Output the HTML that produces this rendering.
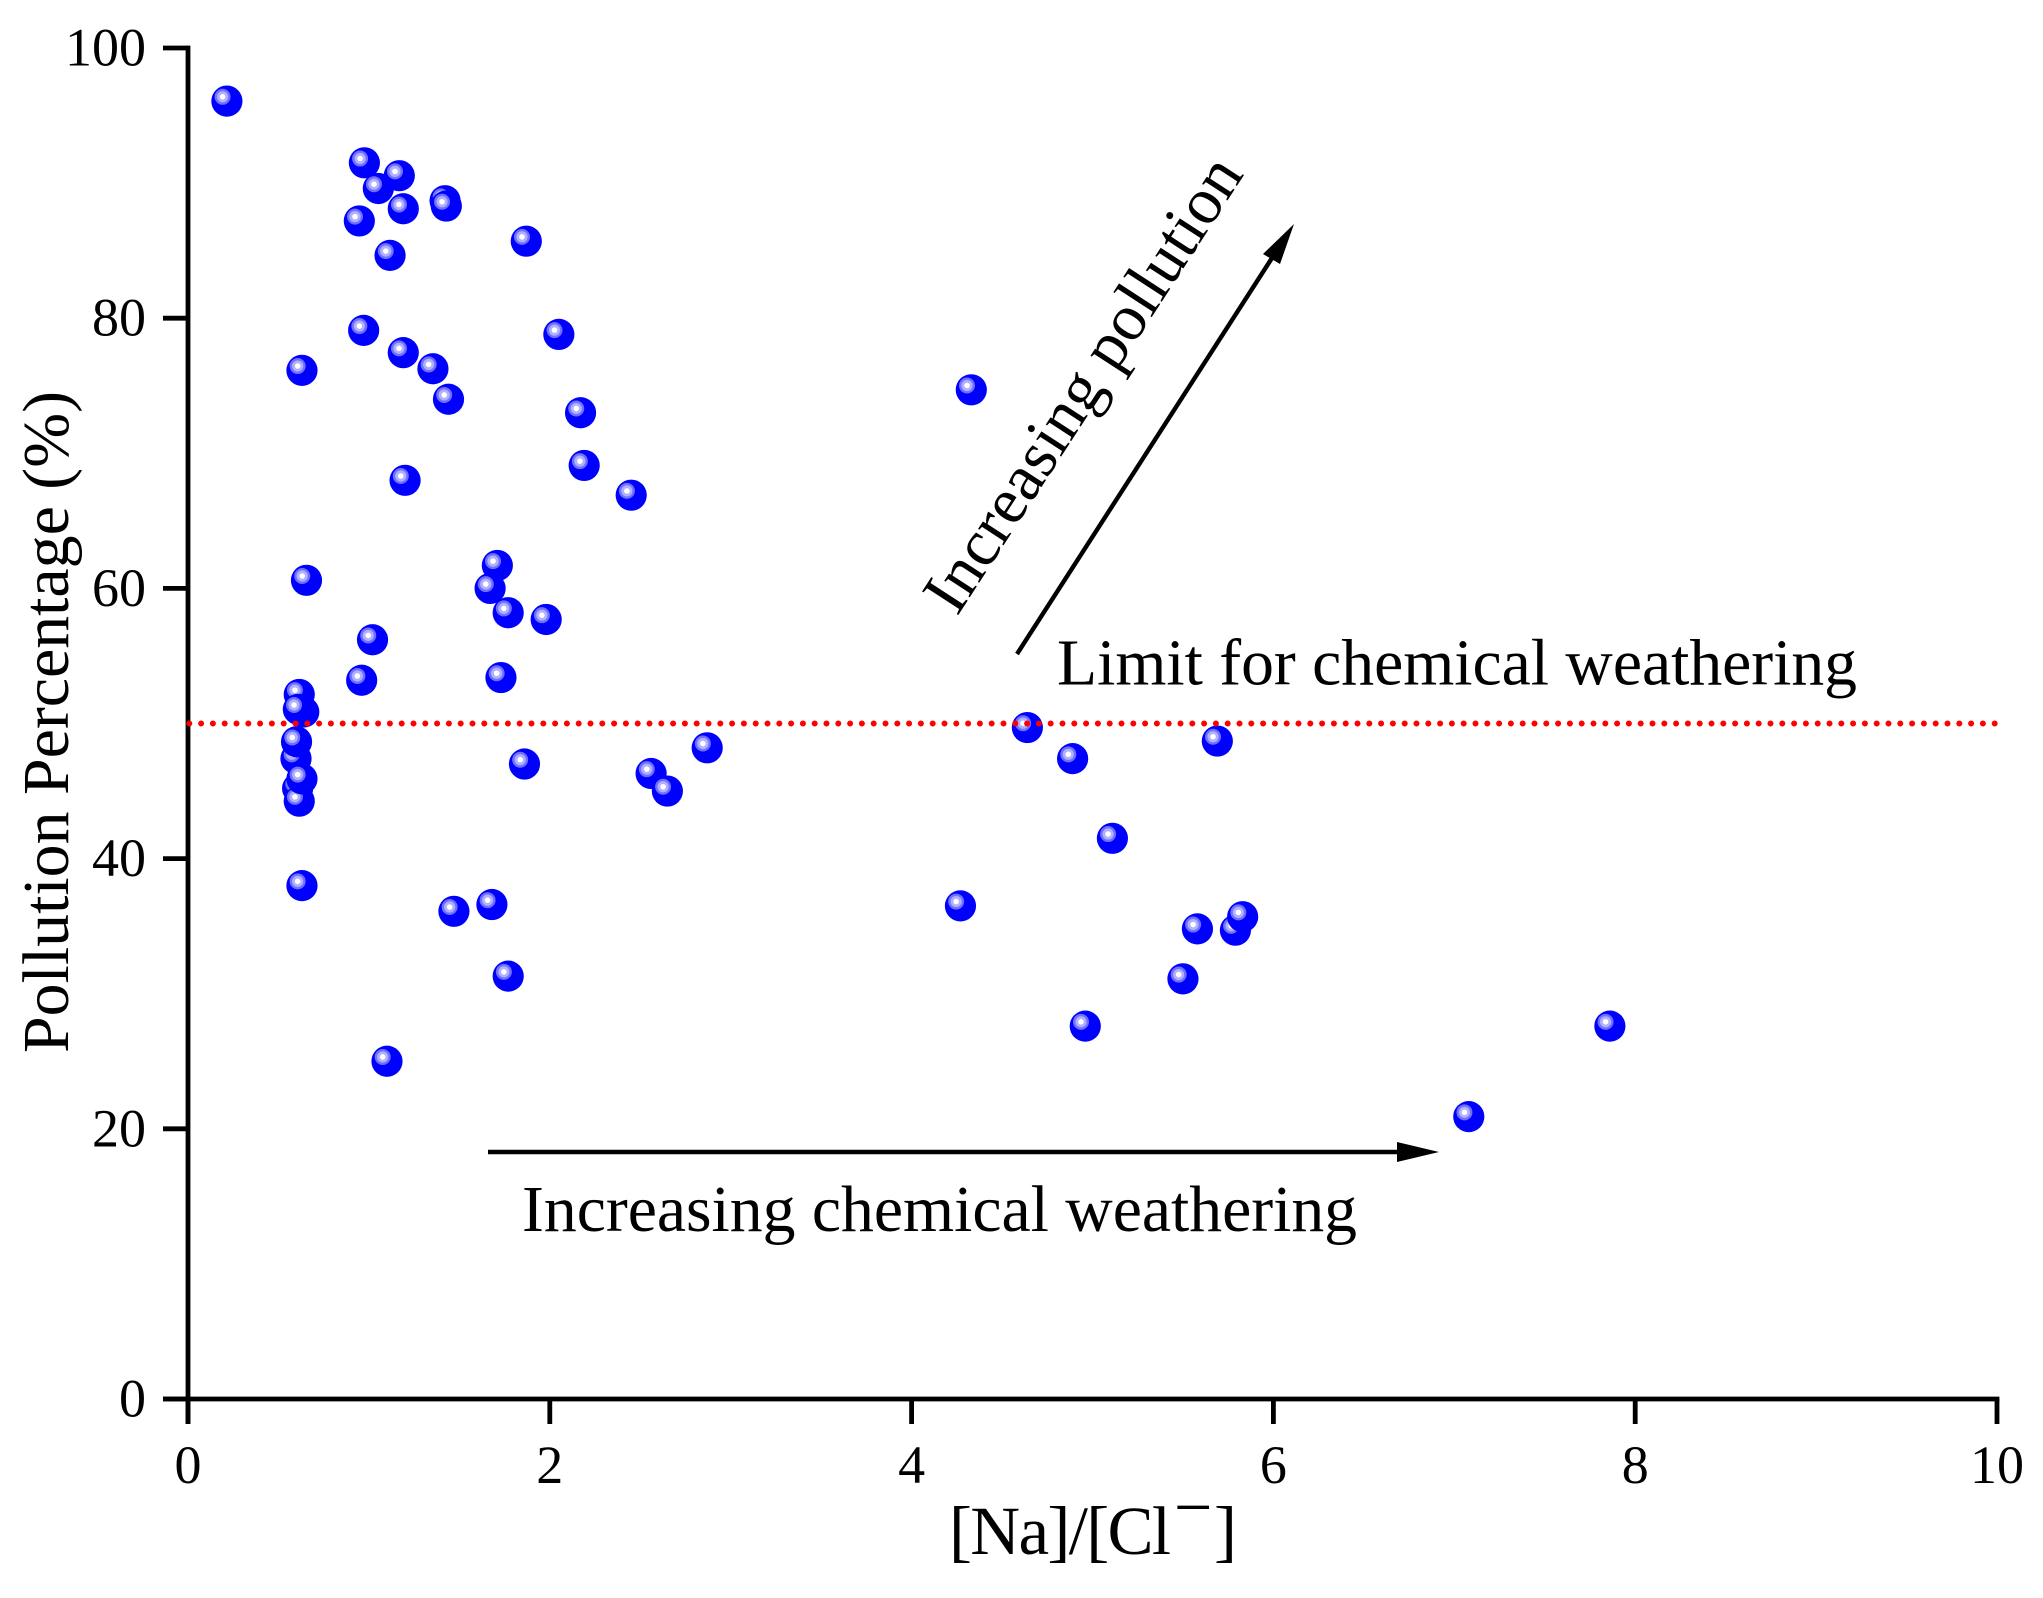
<!DOCTYPE html>
<html lang="en">
<head>
<meta charset="utf-8">
<title>Pollution Percentage vs [Na]/[Cl]</title>
<style>
html,body{margin:0;padding:0;background:#fff;}
svg{display:block;}
text{font-family:"Liberation Serif",serif;fill:#000;}
</style>
</head>
<body>
<svg id="chart" xmlns="http://www.w3.org/2000/svg" width="2043" height="1598" viewBox="0 0 2043 1598">
<rect width="2043" height="1598" fill="#fff"/>
<g id="axes"></g>
<g id="points"></g>
<line id="limit-line" stroke="#ff0000" stroke-width="6" stroke-linecap="round" stroke-dasharray="0 11.8"/>
<text x="1057" y="684.5" font-size="66" textLength="800" lengthAdjust="spacingAndGlyphs">Limit for chemical weathering</text>
<text x="522" y="1231" font-size="66" textLength="835" lengthAdjust="spacingAndGlyphs">Increasing chemical weathering</text>
<text transform="translate(957,617) rotate(-57)" font-size="66" textLength="528" lengthAdjust="spacingAndGlyphs">Increasing pollution</text>
<g>
<line x1="488" y1="1152" x2="1400" y2="1152" stroke="#000" stroke-width="4.4"/>
<polygon points="1439,1152 1397,1142 1397,1162" fill="#000"/>
</g>
<g>
<line x1="1017" y1="654" x2="1272" y2="258" stroke="#000" stroke-width="4.4"/>
<polygon points="1294,224 1263,254 1280,264" fill="#000"/>
</g>
<text transform="translate(68,1053) rotate(-90)" font-size="66" textLength="662" lengthAdjust="spacingAndGlyphs">Pollution Percentage (%)</text>
<g>
<text x="949" y="1554" font-size="69" textLength="222" lengthAdjust="spacing">[Na]/[Cl</text>
<text x="1174" y="1530" font-size="68">−</text>
<text x="1214" y="1554" font-size="69">]</text>
</g>
</svg>
<script>
const xTicks = [0, 2, 4, 6, 8, 10];
const yTicks = [0, 20, 40, 60, 80, 100];
const limitValue = 50;
const ratioValues = [0.215,0.975,1.168,1.052,1.19,1.421,1.428,0.947,1.87,1.117,0.971,1.19,1.354,0.63,1.44,2.05,2.17,2.19,2.45,1.2,4.33,0.655,1.71,1.67,1.77,1.98,1.02,0.96,1.73,0.615,0.64,0.61,0.597,0.6,0.606,0.615,0.63,0.63,1.86,2.56,2.65,2.87,4.64,4.89,5.69,5.11,4.27,5.58,5.79,5.83,5.5,4.96,7.08,7.86,1.47,1.68,1.77,1.1];
const pollutionValues = [96.07,91.5,90.55,89.6,88.1,88.7,88.3,87.2,85.7,84.65,79.1,77.45,76.26,76.14,74.0,78.8,73.0,69.1,66.9,68.0,74.7,60.6,61.7,60.0,58.2,57.7,56.2,53.2,53.4,52.15,50.85,51.05,47.4,48.65,45.2,44.25,45.9,38.0,47.0,46.3,45.0,48.2,49.7,47.4,48.7,41.5,36.5,34.8,34.7,35.7,31.1,27.6,20.9,27.6,36.1,36.6,31.3,25.0];

const NS = 'http://www.w3.org/2000/svg';
const X0 = 188, X1 = 1997, Y0 = 1399, Y1 = 48;
function xScale(v) { return X0 + (v - 0) / 10 * (X1 - X0); }
function yScale(v) { return Y0 - (v - 0) / 100 * (Y0 - Y1); }
function make(parent, tag, attrs) {
  const el = document.createElementNS(NS, tag);
  for (const k in attrs) el.setAttribute(k, attrs[k]);
  parent.appendChild(el);
  return el;
}
const axes = document.getElementById('axes');
const STROKE = 4.8, TICK = 25;

const yAxisLine = make(axes, 'line', {x1: X0, x2: X0, y1: Y1 - STROKE / 2, y2: Y0 + TICK, stroke: '#000', 'stroke-width': STROKE});


const xAxisLine = make(axes, 'line', {x1: X0 - TICK, x2: X1 + STROKE / 2, y1: Y0, y2: Y0, stroke: '#000', 'stroke-width': STROKE});



xTicks.forEach(function (t) {
  const px = xScale(t);
  const tick = make(axes, 'line', {x1: px, x2: px, y1: Y0, y2: Y0 + TICK, stroke: '#000', 'stroke-width': STROKE});
  
  
  const label = make(axes, 'text', {x: px, y: 1483, 'font-size': 54, 'text-anchor': 'middle'});
  label.textContent = String(t);
  
  
});
yTicks.forEach(function (t) {
  const py = yScale(t);
  const tick = make(axes, 'line', {x1: X0 - TICK, x2: X0, y1: py, y2: py, stroke: '#000', 'stroke-width': STROKE});
  
  
  const label = make(axes, 'text', {x: 146, y: py + 17.5, 'font-size': 54, 'text-anchor': 'end'});
  label.textContent = String(t);
  
  
});

const limitLine = document.getElementById('limit-line');
limitLine.setAttribute('x1', X0 + 1.3);
limitLine.setAttribute('x2', X1);
limitLine.setAttribute('y1', yScale(limitValue));
limitLine.setAttribute('y2', yScale(limitValue));

const pointsLayer = document.getElementById('points');
ratioValues.forEach(function (r, i) {
  const cx = xScale(r), cy = yScale(pollutionValues[i]);
  const g = make(pointsLayer, 'g', {});
  
  
  make(g, 'circle', {cx: cx, cy: cy, r: 15.6, fill: '#0000ff'});
  make(g, 'circle', {cx: cx - 4.3, cy: cy - 4.3, r: 8, fill: '#7070ff'});
  make(g, 'circle', {cx: cx - 4.3, cy: cy - 4.3, r: 5.6, fill: '#b0b0ff'});
  make(g, 'circle', {cx: cx - 4.3, cy: cy - 4.3, r: 2.8, fill: '#ffffff'});
});
</script>
</body>
</html>
